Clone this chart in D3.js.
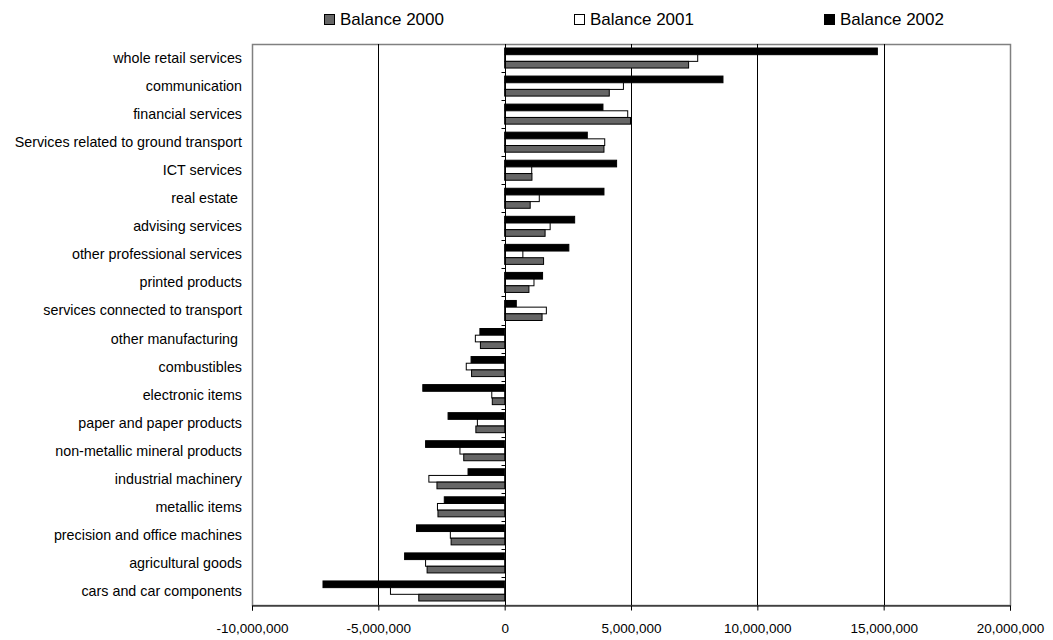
<!DOCTYPE html>
<html>
<head>
<meta charset="utf-8">
<script src="https://cdn.jsdelivr.net/npm/d3@7"></script>
<style>
  body { margin: 0; background: #fff; }
  text { font-family: "Liberation Sans", Arial, sans-serif; fill: #000; white-space: pre; }
</style>
</head>
<body>
<div id="chartdiv"></div>
<script>
/* --- Data --- */
let categories = [
  "whole retail services", "communication", "financial services",
  "Services related to ground transport", "ICT services", "real estate ",
  "advising services", "other professional services", "printed products",
  "services connected to transport", "other manufacturing ", "combustibles",
  "electronic items", "paper and paper products", "non-metallic mineral products",
  "industrial machinery", "metallic items", "precision and office machines",
  "agricultural goods", "cars and car components"
]
let balance2000 = [7280000, 4140000, 4980000, 3930000, 1080000, 1010000, 1600000, 1540000, 960000, 1480000,
  -960000, -1310000, -490000, -1140000, -1620000, -2680000, -2640000, -2120000, -3070000, -3400000]
let balance2001 = [7640000, 4700000, 4870000, 3960000, 1070000, 1370000, 1800000, 720000, 1160000, 1650000,
  -1160000, -1520000, -510000, -1080000, -1770000, -3000000, -2660000, -2150000, -3130000, -4520000]
let balance2002 = [14750000, 8640000, 3890000, 3270000, 4430000, 3930000, 2770000, 2540000, 1500000, 460000,
  -980000, -1330000, -3240000, -2240000, -3130000, -1450000, -2390000, -3490000, -3960000, -7190000]
let seriesNames = ["Balance 2000", "Balance 2001", "Balance 2002"]
let xTicks = [-10000000, -5000000, 0, 5000000, 10000000, 15000000, 20000000]
/* ---------------------------------- */

let width = 1053
let height = 640
let plotLeft = 252, plotRight = 1010, plotTop = 44, plotBottom = 605

let series = [
  {name: "Balance 2002", values: balance2002, fill: "#000000"},
  {name: "Balance 2001", values: balance2001, fill: "#ffffff"},
  {name: "Balance 2000", values: balance2000, fill: "#666666"}
]
let fills = {"Balance 2000": "#666666", "Balance 2001": "#ffffff", "Balance 2002": "#000000"}

// plain hyphen for negatives, like the original
let fmt = d3.formatLocale({decimal: ".", thousands: ",", grouping: [3], currency: ["", ""], minus: "-"}).format(",")

function drawChart(){
  let svg = d3.select('#chartdiv')
    .append('svg')
    .attr("width", width)
    .attr("height", height)

  let xscale = d3.scaleLinear()
    .domain([xTicks[0], xTicks[xTicks.length - 1]])
    .range([plotLeft, plotRight])

  let yscale = d3.scaleBand()
    .domain(categories)
    .range([plotTop, plotBottom])

  let bw = yscale.bandwidth()
  let inner = d3.scaleBand()
    .domain(series.map(s => s.name))
    .range([bw * 0.143, bw * 0.857])

  // plot border
  svg.append("rect")
    .attr("x", plotLeft + 0.5).attr("y", plotTop + 0.5)
    .attr("width", plotRight - plotLeft).attr("height", plotBottom - plotTop)
    .attr("fill", "none").attr("stroke", "#808080").attr("stroke-width", 1.5)

  // gridlines
  svg.append("g").selectAll("line")
    .data(xTicks.filter(t => t != 0 && t != xTicks[0] && t != xTicks[xTicks.length - 1]))
    .join("line")
    .attr("x1", d => Math.round(xscale(d)) + 0.5).attr("x2", d => Math.round(xscale(d)) + 0.5)
    .attr("y1", plotTop).attr("y2", plotBottom)
    .attr("stroke", "#000").attr("stroke-width", 1)

  // bars
  series.forEach(s => {
    svg.append("g").selectAll("rect")
      .data(s.values)
      .join("rect")
      .attr("x", d => xscale(Math.min(0, d)))
      .attr("y", (d, i) => yscale(categories[i]) + inner(s.name))
      .attr("width", d => Math.abs(xscale(d) - xscale(0)))
      .attr("height", inner.bandwidth())
      .attr("fill", s.fill)
      .attr("stroke", "#000")
      .attr("stroke-width", 1)
  })

  // zero axis with small ticks at band edges
  let zx = Math.round(xscale(0)) + 0.5
  svg.append("line")
    .attr("x1", zx).attr("x2", zx).attr("y1", plotTop).attr("y2", plotBottom)
    .attr("stroke", "#000")
  svg.append("g").selectAll("line")
    .data(categories.slice(1))
    .join("line")
    .attr("x1", zx - 4).attr("x2", zx)
    .attr("y1", d => Math.round(yscale(d)) + 0.5)
    .attr("y2", d => Math.round(yscale(d)) + 0.5)
    .attr("stroke", "#000")

  // bottom axis
  let x_axis = d3.axisBottom(xscale)
    .tickValues(xTicks)
    .tickSize(5)
    .tickPadding(13)
    .tickFormat(fmt)
  let ax = svg.append("g")
    .attr("transform", `translate(0, ${plotBottom + 0.5})`)
    .call(x_axis)
  ax.select(".domain").attr("stroke", "#000")
  ax.selectAll("text")
    .attr("font-size", "13.5px")
    .attr("font-family", "Liberation Sans, Arial, sans-serif")
    .attr("fill", "#000")

  // category labels
  svg.append("g").selectAll("text")
    .data(categories)
    .join("text")
    .attr("x", 242)
    .attr("y", d => yscale(d) + bw / 2)
    .attr("dy", "0.35em")
    .attr("text-anchor", "end")
    .attr("font-size", "14.3px")
    .text(d => d)

  // legend
  let legendX = [324, 574, 824]
  let lg = svg.append("g").selectAll("g")
    .data(seriesNames)
    .join("g")
    .attr("transform", (d, i) => `translate(${legendX[i]}, 14)`)
  lg.append("rect")
    .attr("x", 0.5).attr("y", 0.5)
    .attr("width", 10).attr("height", 10)
    .attr("fill", d => fills[d])
    .attr("stroke", "#000")
  lg.append("text")
    .attr("x", 16)
    .attr("y", 10.5)
    .attr("font-size", "17px")
    .text(d => d)
}
drawChart()
</script>
</body>
</html>
